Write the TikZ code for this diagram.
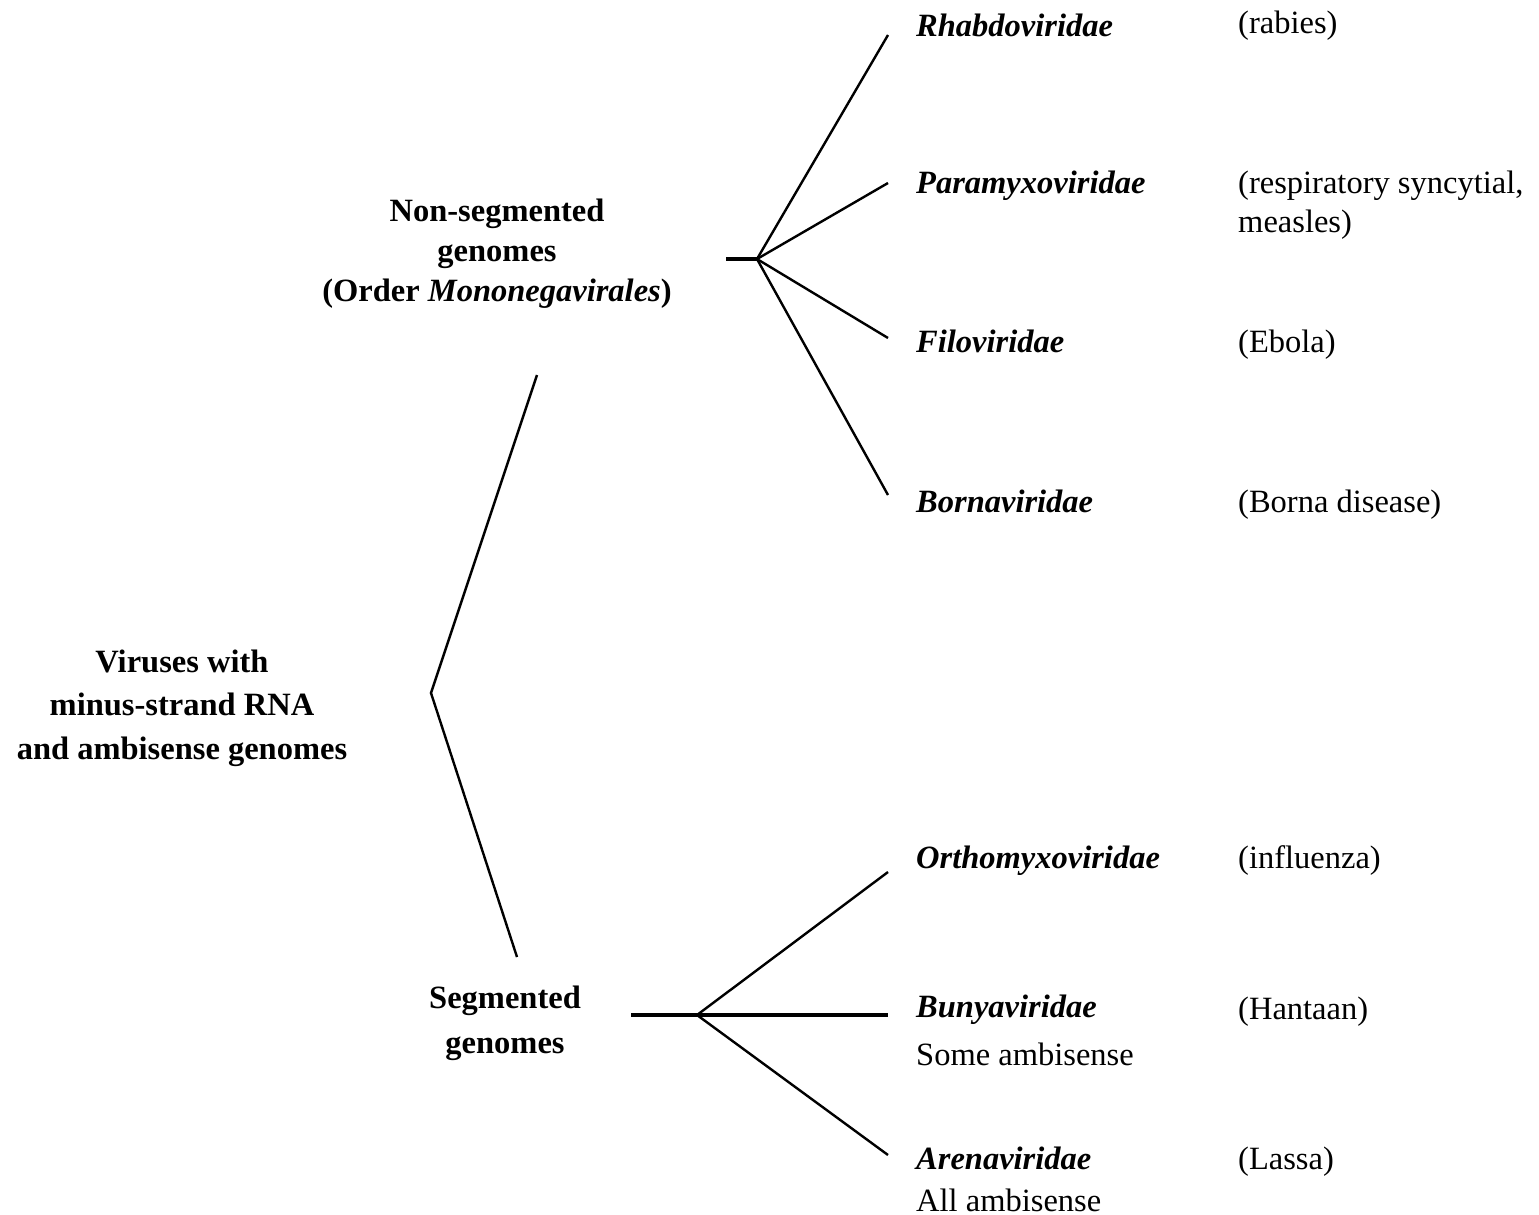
\documentclass[tikz,border=0pt]{standalone}
\usepackage{fontspec}
\setmainfont{Liberation Serif}
\begin{document}
\begin{tikzpicture}[x=1pt,y=-1pt,
  grp/.style={inner sep=0pt, align=center, anchor=base},
  fam/.style={inner sep=0pt, anchor=base west, font=\bfseries\itshape\fontsize{32.5}{40}\selectfont},
  note/.style={inner sep=0pt, anchor=base west, align=left, font=\fontsize{32.5}{39}\selectfont},
  twig/.style={line width=2.4pt, line cap=butt},
  hub/.style={line width=3.8pt, line cap=butt}]
\useasboundingbox (0,0) rectangle (1539,1215);
% group labels (base anchor = baseline of last line)
\node[grp, font=\bfseries\fontsize{32.5}{43.5}\selectfont] (root) at (182,759)
  {Viruses with\\minus-strand RNA\\and ambisense genomes};
\node[grp, font=\bfseries\fontsize{32.5}{40}\selectfont] (nonseg) at (497,301)
  {Non-segmented\\genomes\\(Order \textit{Mononegavirales})};
\node[grp, font=\bfseries\fontsize{32.5}{45}\selectfont] (seg) at (505,1053)
  {Segmented\\genomes};
% families
\node[fam] (rhab) at (916,37) {Rhabdoviridae};
\node[fam] (para) at (916,193) {Paramyxoviridae};
\node[fam] (filo) at (916,352) {Filoviridae};
\node[fam] (born) at (916,512) {Bornaviridae};
\node[fam] (orth) at (916,868) {Orthomyxoviridae};
\node[fam] (buny) at (916,1017) {Bunyaviridae};
\node[note] (bunyn) at (916,1065) {Some ambisense};
\node[fam] (aren) at (916,1169) {Arenaviridae};
\node[note] (arenn) at (916,1211) {All ambisense};
% examples
\node[note] (rabies) at (1238,34) {(rabies)};
\node[note] (resp) at (1238,232) {(respiratory syncytial,\\measles)};
\node[note] (ebola) at (1238,352) {(Ebola)};
\node[note] (borna) at (1238,512) {(Borna disease)};
\node[note] (flu) at (1238,868) {(influenza)};
\node[note] (hant) at (1238,1019) {(Hantaan)};
\node[note] (lassa) at (1238,1169) {(Lassa)};
% tree coordinates
\coordinate (fork) at (431,693);
\coordinate (nsTop) at (537,375);
\coordinate (sgBot) at (517,957);
\coordinate (nsL) at (726,259);
\coordinate (nsHub) at (757,259);
\coordinate (sgL) at (631,1015);
\coordinate (sgHub) at (697,1015);
\coordinate (eRhab) at (888,35);
\coordinate (ePara) at (888,183);
\coordinate (eFilo) at (888,338);
\coordinate (eBorn) at (888,495);
\coordinate (eOrth) at (888,872);
\coordinate (eBuny) at (888,1015);
\coordinate (eAren) at (888,1155);
% connectors
\draw[twig, line join=miter] (nsTop) -- (fork) -- (sgBot);
\draw[hub] (nsL) -- (nsHub);
\draw[twig] (nsHub) -- (eRhab);
\draw[twig] (nsHub) -- (ePara);
\draw[twig] (nsHub) -- (eFilo);
\draw[twig] (nsHub) -- (eBorn);
\draw[hub] (sgL) -- (sgHub);
\draw[hub] (sgHub) -- (eBuny);
\draw[twig] (sgHub) -- (eOrth);
\draw[twig] (sgHub) -- (eAren);
\end{tikzpicture}
\end{document}
